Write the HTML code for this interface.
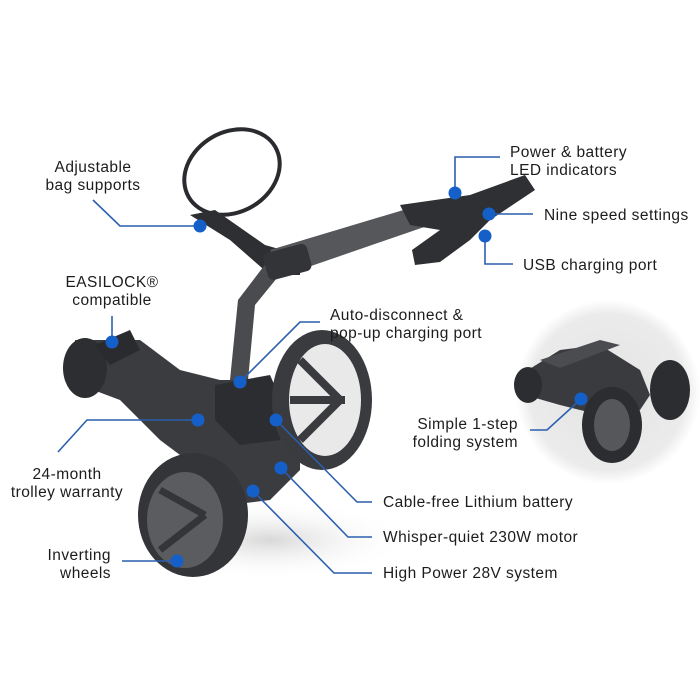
<!DOCTYPE html>
<html><head><meta charset="utf-8"><style>
html,body{margin:0;padding:0;background:#fff;}
svg{display:block;}
text{font-family:"Liberation Sans",sans-serif;font-size:15.5px;letter-spacing:0.45px;fill:#1c1c1c;}
</style></head><body>
<svg width="700" height="700" viewBox="0 0 700 700" xmlns="http://www.w3.org/2000/svg">
<defs>
<radialGradient id="bg" cx="0.5" cy="0.5" r="0.5">
<stop offset="0" stop-color="#e3e3e3"/><stop offset="0.85" stop-color="#ebebeb"/><stop offset="1" stop-color="#fff"/>
</radialGradient>
<radialGradient id="sh" cx="0.5" cy="0.5" r="0.5">
<stop offset="0" stop-color="#d8d8d8"/><stop offset="1" stop-color="#fff" stop-opacity="0"/>
</radialGradient>
</defs>
<ellipse cx="270" cy="540" rx="140" ry="40" fill="url(#sh)"/>
<circle cx="608" cy="392" r="92" fill="url(#bg)"/>
<g fill="#3a3b3e">
<path d="M520 375 L560 350 L600 345 L640 370 L650 395 L640 410 L600 415 L560 405 L525 395Z"/>
<ellipse cx="528" cy="385" rx="14" ry="18" fill="#2c2d30"/>
<ellipse cx="670" cy="390" rx="20" ry="30" fill="#2c2d30"/>
<ellipse cx="612" cy="425" rx="30" ry="38" fill="#2c2d30"/>
<ellipse cx="612" cy="425" rx="18" ry="26" fill="#55575b"/>
<path d="M540 360 L600 340 L620 345 L560 368Z" fill="#4a4c50"/>
</g>
<ellipse cx="232" cy="172" rx="50" ry="40" fill="none" stroke="#2a2b2e" stroke-width="4" transform="rotate(-30 232 172)"/>
<path d="M190 215 L215 210 L265 245 L300 255 L300 275 L270 275 L230 240Z" fill="#2e2f32"/>
<path d="M230 380 L238 300 L270 258 L290 262 L255 305 L248 380Z" fill="#4a4b4f"/>
<path d="M270 250 L420 205 L430 225 L285 275Z" fill="#55575b"/>
<rect x="265" y="248" width="45" height="28" rx="6" fill="#333437" transform="rotate(-15 287 262)"/>
<path d="M400 205 L470 195 L525 175 L535 190 L490 220 L470 240 L440 262 L415 265 L412 250 L440 230 L410 225Z" fill="#2f3033"/>
<path d="M75 340 L140 340 L180 370 L220 380 L260 380 L280 400 L300 440 L300 470 L270 500 L230 505 L200 470 L160 440 L120 400 L80 385Z" fill="#3b3c40"/>
<path d="M215 385 L270 375 L290 420 L280 440 L240 445 L215 420Z" fill="#2c2d30"/>
<ellipse cx="85" cy="368" rx="22" ry="30" fill="#2d2e31"/>
<path d="M95 345 L130 330 L140 350 L110 365Z" fill="#2a2b2e"/>
<ellipse cx="322" cy="400" rx="50" ry="70" fill="#3a3b3e"/>
<ellipse cx="325" cy="400" rx="36" ry="56" fill="#e9e9e9"/>
<path d="M300 360 L340 400 M300 440 L340 400 M290 400 L345 400" stroke="#3a3b3e" stroke-width="8"/>
<ellipse cx="193" cy="515" rx="55" ry="62" fill="#343538"/>
<ellipse cx="185" cy="520" rx="38" ry="48" fill="#5a5c60"/>
<path d="M160 490 L205 515 M160 550 L205 515" stroke="#343538" stroke-width="7"/>
<g fill="none" stroke="#2b5fae" stroke-width="1.6">
<polyline points="93,200 120,226 200,226"/>
<polyline points="112,316 112,342"/>
<polyline points="320,322 300,322 240,382"/>
<polyline points="500,157 455,157 455,193"/>
<polyline points="489,214 533,214"/>
<polyline points="485,236 485,264 513,264"/>
<polyline points="58,452 87,420 198,420"/>
<polyline points="276,420 357,502 372,502"/>
<polyline points="281,468 348,537 372,537"/>
<polyline points="253,491 334,573 372,573"/>
<polyline points="122,561 177,561"/>
<polyline points="530,430 547,430 581,399"/>
</g>
<g fill="#1560c8">
<circle cx="200" cy="226" r="6.5"/><circle cx="112" cy="342" r="6.5"/><circle cx="240" cy="382" r="6.5"/>
<circle cx="455" cy="193" r="6.5"/><circle cx="489" cy="214" r="6.5"/><circle cx="485" cy="236" r="6.5"/>
<circle cx="198" cy="420" r="6.5"/><circle cx="276" cy="420" r="6.5"/><circle cx="281" cy="468" r="6.5"/>
<circle cx="253" cy="491" r="6.5"/><circle cx="177" cy="561" r="6.5"/><circle cx="581" cy="399" r="6.5"/>
</g>
<g text-anchor="middle">
<text x="93" y="172">Adjustable</text><text x="93" y="190">bag supports</text>
<text x="112" y="287">EASILOCK®</text><text x="112" y="305">compatible</text>
<text x="67" y="479">24-month</text><text x="67" y="497">trolley warranty</text>
</g>
<g text-anchor="end">
<text x="111" y="560">Inverting</text><text x="111" y="578">wheels</text>
<text x="518" y="429">Simple 1-step</text><text x="518" y="447">folding system</text>
</g>
<text x="330" y="320">Auto-disconnect &amp;</text><text x="330" y="338">pop-up charging port</text>
<text x="510" y="157">Power &amp; battery</text><text x="510" y="175">LED indicators</text>
<text x="544" y="220">Nine speed settings</text>
<text x="523" y="270">USB charging port</text>
<text x="383" y="507">Cable-free Lithium battery</text>
<text x="383" y="542">Whisper-quiet 230W motor</text>
<text x="383" y="578">High Power 28V system</text>
</svg>
</body></html>
